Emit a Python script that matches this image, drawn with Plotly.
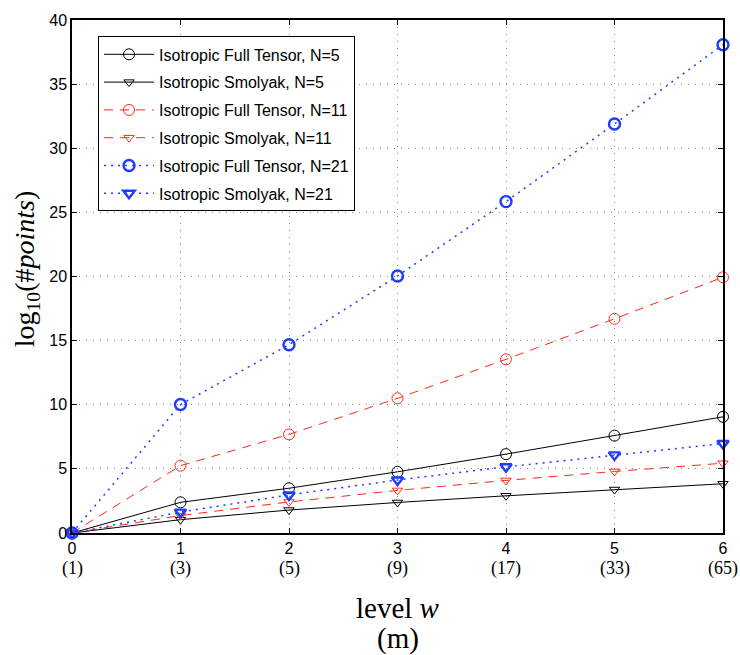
import plotly.graph_objects as go

levels = [0, 1, 2, 3, 4, 5, 6]
m_labels = ["(1)", "(3)", "(5)", "(9)", "(17)", "(33)", "(65)"]

full_n5 = [0, 2.39, 3.49, 4.77, 6.15, 7.59, 9.06]
smol_n5 = [0, 1.04, 1.79, 2.38, 2.90, 3.39, 3.84]
full_n11 = [0, 5.25, 7.69, 10.50, 13.54, 16.70, 19.94]
smol_n11 = [0, 1.36, 2.42, 3.32, 4.10, 4.80, 5.44]
full_n21 = [0, 10.02, 14.68, 20.04, 25.84, 31.89, 38.07]
smol_n21 = [0, 1.63, 2.97, 4.13, 5.16, 6.09, 6.98]

BLACK = "#000000"
RED = "#ff2a14"
BLUE = "#1e3cff"

series = [
    ("Isotropic Full Tensor, N=5", full_n5, BLACK, "solid", "circle-open", 11, 1.0, 1.0),
    ("Isotropic Smolyak, N=5", smol_n5, BLACK, "solid", "triangle-down-open", 9, 1.0, 1.0),
    ("Isotropic Full Tensor, N=11", full_n11, RED, "9px,7px", "circle-open", 11, 1.0, 1.0),
    ("Isotropic Smolyak, N=11", smol_n11, RED, "9px,7px", "triangle-down-open", 9, 1.0, 1.0),
    ("Isotropic Full Tensor, N=21", full_n21, BLUE, "2px,5px", "circle-open", 11, 1.5, 2.4),
    ("Isotropic Smolyak, N=21", smol_n21, BLUE, "2px,5px", "triangle-down-open", 10, 1.5, 2.4),
]

fig = go.Figure()
for i, (name, ys, col, dash, sym, msize, lw, mlw) in enumerate(series):
    fig.add_trace(go.Scatter(
        x=levels, y=ys, name=name, mode="lines+markers", legendgroup=f"g{i}",
        line=dict(color=col, width=lw, dash=dash),
        marker=dict(symbol=sym, size=msize, color=col, line=dict(color=col, width=mlw)),
        cliponaxis=False,
    ))

grid = dict(showgrid=True, gridcolor="#8a8a8a", gridwidth=1, griddash="1px,6px")
tickfont = dict(family="Liberation Sans, Arial, sans-serif", size=16, color="black")

fig.update_xaxes(
    range=[0, 6], tickvals=levels, ticktext=[str(v) for v in levels],
    ticks="inside", ticklen=5, tickcolor="black", mirror="allticks",
    showline=True, linecolor="black", linewidth=1.5, zeroline=False,
    tickfont=tickfont, **grid,
)
fig.update_yaxes(
    range=[0, 40], tickvals=[0, 5, 10, 15, 20, 25, 30, 35, 40],
    ticks="inside", ticklen=5, tickcolor="black", mirror="allticks",
    showline=True, linecolor="black", linewidth=1.5, zeroline=False,
    tickfont=tickfont, **grid,
)

serif = "Liberation Serif, Times New Roman, serif"
annotations = []
for xv, lab in zip(levels, m_labels):
    annotations.append(dict(
        x=xv, y=-0.07, xref="x", yref="paper", text=lab, showarrow=False,
        font=dict(family=serif, size=18, color="black"),
        xanchor="center", yanchor="middle",
    ))
annotations.append(dict(
    x=0.5, y=-0.146, xref="paper", yref="paper", text="level <i>w</i>", showarrow=False,
    font=dict(family=serif, size=29, color="black"),
    xanchor="center", yanchor="middle",
))
annotations.append(dict(
    x=0.5, y=-0.205, xref="paper", yref="paper", text="(m)", showarrow=False,
    font=dict(family=serif, size=29, color="black"),
    xanchor="center", yanchor="middle",
))
annotations.append(dict(
    x=-0.07, y=0.515, xref="paper", yref="paper",
    text="log<sub>10</sub>(#<i>points</i>)", showarrow=False, textangle=-90,
    font=dict(family=serif, size=28, color="black"),
    xanchor="center", yanchor="middle",
))

fig.update_layout(
    width=740, height=655,
    margin=dict(l=72, r=12, t=15, b=122),
    paper_bgcolor="white", plot_bgcolor="white",
    showlegend=True,
    legend=dict(
        x=0.04, y=0.968, xanchor="left", yanchor="top",
        bgcolor="white", bordercolor="black", borderwidth=1,
        font=dict(family="Liberation Sans, Arial, sans-serif", size=16, color="black"),
        tracegroupgap=4, itemwidth=50,
    ),
    annotations=annotations,
)

fig.write_html("out.html")
